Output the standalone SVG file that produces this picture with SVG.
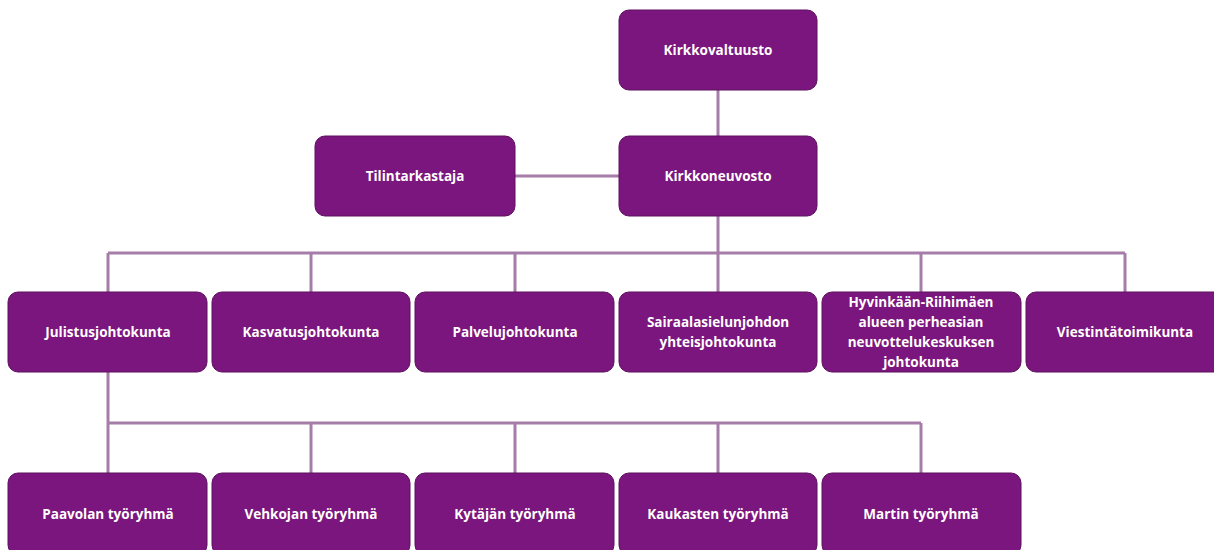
<svg xmlns="http://www.w3.org/2000/svg" width="1214" height="550" viewBox="0 0 1214 550">
<style>
.n rect{fill:#7a167d;stroke:#5e1060;stroke-width:1}
.n text{fill:#fff;font-family:"Open Sans","Liberation Sans",sans-serif;font-weight:bold;font-size:13.5px;text-anchor:middle}
.c{stroke:#a67ca8;stroke-width:3;fill:none}
</style>
<rect width="1214" height="550" fill="#fff"/>
<g id="connectors">
<path class="c" d="M718 90V136M515 176H619M718 216V253M108 253H1125M108 253V292M311 253V292M515 253V292M921 253V292M1125 253V292M718 253V292M108 372V473M108 423H921M311 423V473M515 423V473M718 423V473M921 423V473"/>
</g>
<g id="kirkkovaltuusto" class="n"><rect x="619" y="10" width="198" height="80" rx="10"/><text x="718" y="55">Kirkkovaltuusto</text></g>
<g id="tilintarkastaja" class="n"><rect x="315" y="136" width="200" height="80" rx="10"/><text x="415" y="181">Tilintarkastaja</text></g>
<g id="kirkkoneuvosto" class="n"><rect x="619" y="136" width="198" height="80" rx="10"/><text x="718" y="181">Kirkkoneuvosto</text></g>
<g id="julistus" class="n"><rect x="8" y="292" width="199" height="80" rx="10"/><text x="108" y="337">Julistusjohtokunta</text></g>
<g id="kasvatus" class="n"><rect x="212" y="292" width="198" height="80" rx="10"/><text x="311" y="337">Kasvatusjohtokunta</text></g>
<g id="palvelu" class="n"><rect x="415" y="292" width="199" height="80" rx="10"/><text x="515" y="337">Palvelujohtokunta</text></g>
<g id="sairaala" class="n"><rect x="619" y="292" width="198" height="80" rx="10"/><text x="718" y="327">Sairaalasielunjohdon</text><text x="718" y="347">yhteisjohtokunta</text></g>
<g id="hyvinkaa" class="n"><rect x="822" y="292" width="199" height="80" rx="10"/><text x="921" y="307">Hyvinkään-Riihimäen</text><text x="921" y="327">alueen perheasian</text><text x="921" y="347">neuvottelukeskuksen</text><text x="921" y="367">johtokunta</text></g>
<g id="viestinta" class="n"><rect x="1026" y="292" width="198" height="80" rx="10"/><text x="1125" y="337">Viestintätoimikunta</text></g>
<g id="paavola" class="n"><rect x="8" y="473" width="199" height="82" rx="10"/><text x="108" y="519">Paavolan työryhmä</text></g>
<g id="vehkoja" class="n"><rect x="212" y="473" width="198" height="82" rx="10"/><text x="311" y="519">Vehkojan työryhmä</text></g>
<g id="kytaja" class="n"><rect x="415" y="473" width="199" height="82" rx="10"/><text x="515" y="519">Kytäjän työryhmä</text></g>
<g id="kaukas" class="n"><rect x="619" y="473" width="198" height="82" rx="10"/><text x="718" y="519">Kaukasten työryhmä</text></g>
<g id="martti" class="n"><rect x="822" y="473" width="199" height="82" rx="10"/><text x="921" y="519">Martin työryhmä</text></g>
</svg>
